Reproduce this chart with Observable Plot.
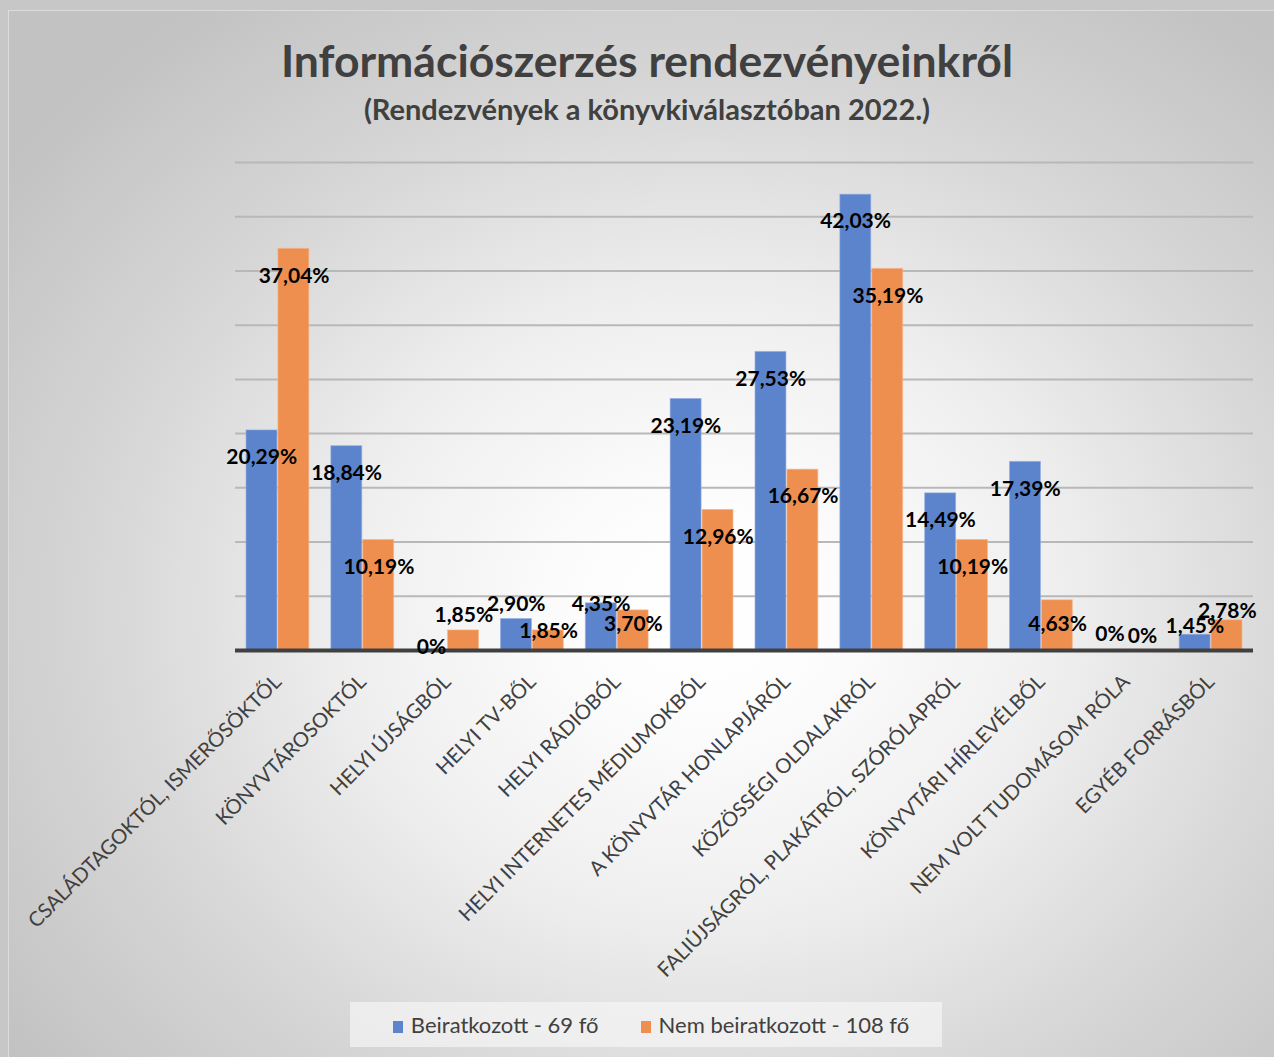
<!DOCTYPE html>
<html>
<head>
<meta charset="utf-8">
<script src="https://cdn.jsdelivr.net/npm/d3@7"></script>
<script src="https://cdn.jsdelivr.net/npm/@observablehq/plot@0.6"></script>
<style>
  html, body { margin: 0; padding: 0; }
  body { width: 1274px; height: 1057px; position: relative; overflow: hidden; background: #c7c7c7; font-family: Lato, "Open Sans", sans-serif; }
  #frame { position: absolute; left: 8px; top: 10px; width: 1266px; height: 1047px;
    background: radial-gradient(ellipse at 55% 57%, #ffffff 0%, #fdfdfd 12%, #efefef 36%, #d6d6d6 62%, #c2c2c2 88%);
    border-top: 1px solid #dcdcdc; border-left: 1px solid #dcdcdc; box-sizing: border-box; }
  .title { position: absolute; left: 10px; width: 1274px; text-align: center; color: #404040; font-weight: bold; white-space: nowrap; }
  #t1 { top: 33px; font-size: 44.5px; }
  #t2 { top: 91px; font-size: 29px; }
  #chart { position: absolute; left: 0; top: 140px; }
  #legend { position: absolute; left: 350px; top: 1002px; width: 592px; height: 45px; background: rgba(245,245,245,0.7);
    display: flex; align-items: center; justify-content: center; gap: 42px; font-size: 22px; color: #404040;
    padding-left: 10px; box-sizing: border-box; }
  #legend span.sw { display: inline-block; width: 10px; height: 12px; margin-right: 8px; vertical-align: 0px; }
</style>
</head>
<body>
<div id="frame"></div>
<div class="title" id="t1">Információszerzés rendezvényeinkről</div>
<div class="title" id="t2">(Rendezvények a könyvkiválasztóban 2022.)</div>
<div id="chart"></div>
<div id="legend"></div>
<script>
const categories = [
  "CSALÁDTAGOKTÓL, ISMERŐSÖKTŐL",
  "KÖNYVTÁROSOKTÓL",
  "HELYI ÚJSÁGBÓL",
  "HELYI TV-BŐL",
  "HELYI RÁDIÓBÓL",
  "HELYI INTERNETES MÉDIUMOKBÓL",
  "A KÖNYVTÁR HONLAPJÁRÓL",
  "KÖZÖSSÉGI OLDALAKRÓL",
  "FALIÚJSÁGRÓL, PLAKÁTRÓL, SZÓRÓLAPRÓL",
  "KÖNYVTÁRI HÍRLEVÉLBŐL",
  "NEM VOLT TUDOMÁSOM RÓLA",
  "EGYÉB FORRÁSBÓL"
];
const seriesNames = ["Beiratkozott - 69 fő", "Nem beiratkozott - 108 fő"];
const beiratkozott = [20.29, 18.84, 0, 2.90, 4.35, 23.19, 27.53, 42.03, 14.49, 17.39, 0, 1.45];
const nemBeiratkozott = [37.04, 10.19, 1.85, 1.85, 3.70, 12.96, 16.67, 35.19, 10.19, 4.63, 0, 2.78];
const yTicks = [0, 5, 10, 15, 20, 25, 30, 35, 40, 45];
const colors = ["#5b84cd", "#ef8f4f"];

// label placement tweaks (pixels from bar top, Excel manual placement)
const labelDyOverrides = {
  "2|0": -3, "2|1": -15,
  "3|0": -15, "3|1": 1,
  "4|0": 1, "4|1": 14,
  "9|1": 24,
  "10|0": -16, "10|1": -14,
  "11|0": -9, "11|1": -9
};

const W = 1274, H = 860;
const ml = 235, mr = 21, mt = 22, mb = 350;
const padIn = 0.26;
const step = (W - ml - mr) / categories.length;
const bw = step * (1 - padIn);
const half = bw / 2;

const rows = [];
categories.forEach((c, i) => {
  [beiratkozott, nemBeiratkozott].forEach((arr, s) => {
    rows.push({cat: c, s, v: arr[i], key: i + "|" + s});
  });
});
const fmt = v => (v === 0 ? "0" : v.toFixed(2).replace(".", ",")) + "%";
rows.forEach(r => { r.dy = (r.key in labelDyOverrides) ? labelDyOverrides[r.key] : 27; r.label = fmt(r.v); });

const blue = rows.filter(r => r.s === 0);
const orange = rows.filter(r => r.s === 1);

const textMarks = [];
const groups = d3.group(rows, r => r.s + "_" + r.dy);
for (const [k, g] of groups) {
  const s = g[0].s;
  textMarks.push(Plot.text(g, {
    x: "cat", y: "v", text: "label", dy: g[0].dy, dx: s === 0 ? -half / 2 - 0.5 : half / 2 + 0.5,
    fill: "#000", fontWeight: "bold", fontSize: 21, fontFamily: "Lato, sans-serif"
  }));
}

const chart = Plot.plot({
  width: W, height: H,
  marginLeft: ml, marginRight: mr, marginTop: mt, marginBottom: mb,
  style: {background: "transparent", fontFamily: "Lato, sans-serif", overflow: "visible"},
  x: {domain: categories, paddingInner: padIn, paddingOuter: padIn / 2, round: false, label: null},
  y: {domain: [0, 45], axis: null},
  marks: [
    Plot.gridY(yTicks.slice(1), {stroke: "#b8b8b8", strokeOpacity: 1, strokeWidth: 2}),
    Plot.barY(blue, {x: "cat", y: "v", fill: colors[0], insetRight: half + 0.5, stroke: "#8eaae0", strokeWidth: 1, strokeOpacity: 0.6}),
    Plot.barY(orange, {x: "cat", y: "v", fill: colors[1], insetLeft: half + 0.5, stroke: "#f5b488", strokeWidth: 1, strokeOpacity: 0.6}),
    Plot.ruleY([0], {stroke: "#404040", strokeWidth: 4}),
    Plot.axisX({tickRotate: -45, tickSize: 0, tickPadding: 28, fontSize: 20.3, fill: "#404040", label: null, dx: 0}),
    ...textMarks
  ]
});
document.getElementById("chart").appendChild(chart);

const leg = document.getElementById("legend");
seriesNames.forEach((n, i) => {
  const d = document.createElement("div");
  d.innerHTML = `<span class="sw" style="background:${colors[i]}"></span>${n}`;
  leg.appendChild(d);
});
</script>
</body>
</html>
